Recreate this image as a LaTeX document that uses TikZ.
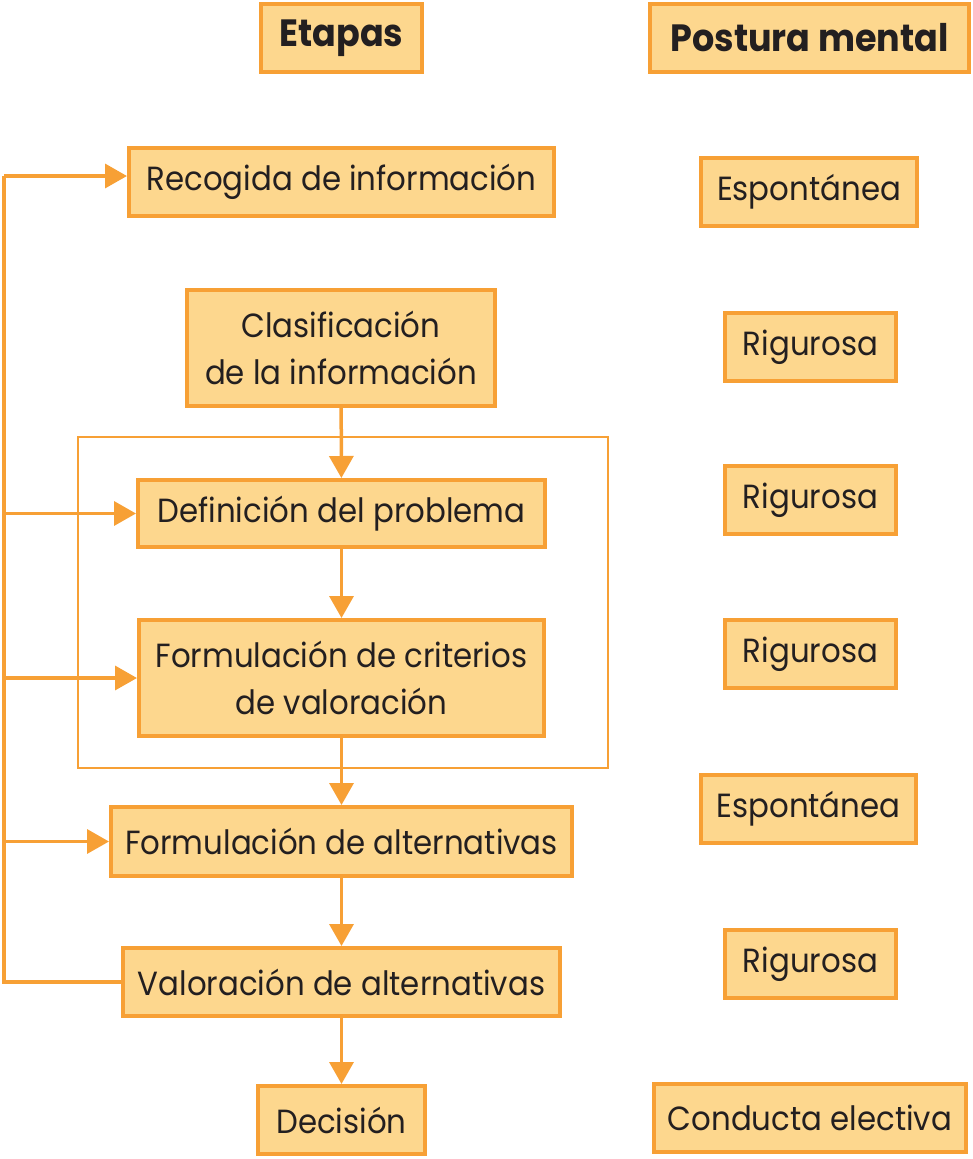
\documentclass[tikz,border=0pt]{standalone}
\usepackage{fontspec}
\setmainfont[FakeStretch=0.92]{Poppins}
\usetikzlibrary{arrows.meta}
\definecolor{borange}{RGB}{247,160,53}
\definecolor{bfill}{RGB}{253,215,142}
\definecolor{ink}{RGB}{35,31,32}
\begin{document}
\begin{tikzpicture}[x=1pt,y=-1pt,
  box/.style={draw=borange,fill=bfill,line width=4pt,inner sep=0pt,align=center,text=ink,
    font=\fontsize{33.5}{47}\selectfont,minimum height=68pt},
  head/.style={box,font=\fontsize{38}{44}\selectfont\bfseries},
  conn/.style={draw=borange,line width=3.5pt},
  arr/.style={conn,-{Triangle[length=22pt,width=24pt]}}]
\useasboundingbox (0,0) rectangle (973,1159);
% headers
\node[head,minimum width=161pt] (hEt) at (341.5,38) {Etapas};
\node[head,minimum width=319pt] (hPm) at (809.5,38) {Postura mental};
% frame
\draw[borange,line width=2pt] (78,437) rectangle (608,768);
% left column
\node[box,minimum width=425pt] (rec) at (341.5,182) {Recogida de información};
\node[box,minimum width=308pt,minimum height=116pt] (cla) at (341,348) {Clasificación\\de la información};
\node[box,minimum width=407pt,minimum height=67pt] (def) at (341.5,513.5) {Definición del problema};
\node[box,minimum width=405pt,minimum height=116pt] (cri) at (341.5,678) {Formulación de criterios\\de valoración};
\node[box,minimum width=461pt,minimum height=69pt] (alt) at (341.5,841.5) {Formulación de alternativas};
\node[box,minimum width=437pt] (val) at (341.5,982) {Valoración de alternativas};
\node[box,minimum width=167pt] (dec) at (341.5,1120) {Decisión};
% right column
\node[box,minimum width=216pt] (p1) at (809,192) {Espontánea};
\node[box,minimum width=171pt] (p2) at (810.5,347) {Rigurosa};
\node[box,minimum width=171pt] (p3) at (810.5,500) {Rigurosa};
\node[box,minimum width=171pt] (p4) at (810.5,654) {Rigurosa};
\node[box,minimum width=215pt] (p5) at (808.5,809) {Espontánea};
\node[box,minimum width=171pt] (p6) at (810.5,964) {Rigurosa};
\node[box,minimum width=312pt] (p7) at (810,1118) {Conducta electiva};
% vertical flow
\draw[arr] (cla) -- (def);
\draw[arr] (def) -- (cri);
\draw[arr] (cri) -- (alt);
\draw[arr] (alt) -- (val);
\draw[arr] (val) -- (dec);
% feedback line
\coordinate (L1) at (4,176);
\coordinate (L2) at (4,513.5);
\coordinate (L3) at (4,678);
\coordinate (L4) at (4,841.5);
\coordinate (L5) at (4,982);
\draw[conn] (val.west) -- (L5) -- (L1);
\draw[arr] (L1) -- (L1 -| rec.west);
\draw[arr] (L2) -- (def.west);
\draw[arr] (L3) -- (cri.west);
\draw[arr] (L4) -- (alt.west);
\end{tikzpicture}
\end{document}
